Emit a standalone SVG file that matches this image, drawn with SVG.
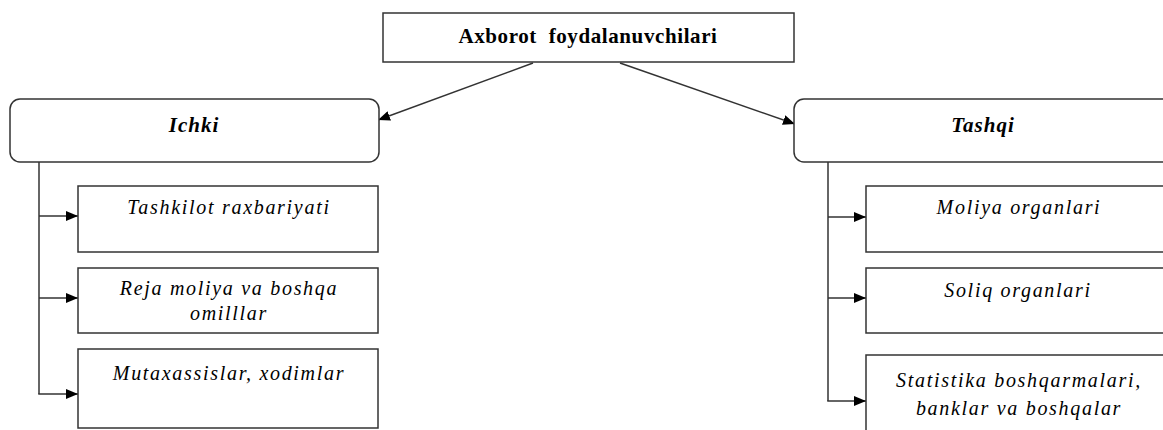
<svg xmlns="http://www.w3.org/2000/svg" width="1163" height="430" viewBox="0 0 1163 430">
<style>
.box{fill:#fff;stroke:#333;stroke-width:1.5}
.ln{fill:none;stroke:#333;stroke-width:1.5}
.t{font-family:"Liberation Serif","Times New Roman",serif;fill:#000;text-anchor:middle;white-space:pre}
.hd{font-size:21px;font-weight:bold;letter-spacing:0.6px}
.sub{font-size:21px;font-weight:bold;font-style:italic;letter-spacing:1px}
.it{font-size:20px;font-style:italic;letter-spacing:1.7px}
</style>
<defs>
<marker id="ah" viewBox="0 0 12 10" refX="12" refY="5" markerWidth="12" markerHeight="10" markerUnits="userSpaceOnUse" orient="auto">
<path d="M0,0 L12,5 L0,10 Z" fill="#000"/>
</marker>
</defs>
<rect width="1163" height="430" fill="#fff"/>
<g id="connectors">
<line class="ln" x1="533" y1="63" x2="378" y2="120" marker-end="url(#ah)"/>
<line class="ln" x1="620" y1="63" x2="795" y2="124" marker-end="url(#ah)"/>
<line class="ln" x1="39" y1="162" x2="39" y2="394"/>
<line class="ln" x1="39" y1="216" x2="78" y2="216" marker-end="url(#ah)"/>
<line class="ln" x1="39" y1="298" x2="78" y2="298" marker-end="url(#ah)"/>
<line class="ln" x1="38.25" y1="394" x2="78" y2="394" marker-end="url(#ah)"/>
<line class="ln" x1="828" y1="162" x2="828" y2="401"/>
<line class="ln" x1="828" y1="217" x2="866" y2="217" marker-end="url(#ah)"/>
<line class="ln" x1="828" y1="298" x2="866" y2="298" marker-end="url(#ah)"/>
<line class="ln" x1="827.25" y1="401" x2="866" y2="401" marker-end="url(#ah)"/>
</g>
<g id="root">
<rect class="box" x="383" y="13" width="411" height="49"/>
<text class="t hd" x="588" y="43" xml:space="preserve">Axborot  foydalanuvchilari</text>
</g>
<g id="ichki">
<rect class="box" x="10" y="99" width="369" height="63" rx="10"/>
<text class="t sub" x="194" y="132">Ichki</text>
</g>
<g id="tashqi">
<rect class="box" x="794" y="99" width="380" height="63" rx="10"/>
<text class="t sub" x="983" y="132">Tashqi</text>
</g>
<g id="ichki-1">
<rect class="box" x="78" y="186" width="300" height="66"/>
<text class="t it" x="229" y="214">Tashkilot raxbariyati</text>
</g>
<g id="ichki-2">
<rect class="box" x="78" y="268" width="300" height="65"/>
<text class="t it" x="229" y="295">Reja moliya va boshqa</text>
<text class="t it" x="229" y="320">omilllar</text>
</g>
<g id="ichki-3">
<rect class="box" x="78" y="349" width="300" height="79"/>
<text class="t it" x="229" y="380">Mutaxassislar, xodimlar</text>
</g>
<g id="tashqi-1">
<rect class="box" x="866" y="186" width="310" height="66"/>
<text class="t it" x="1019" y="214">Moliya organlari</text>
</g>
<g id="tashqi-2">
<rect class="box" x="866" y="268" width="310" height="65"/>
<text class="t it" x="1018" y="297">Soliq organlari</text>
</g>
<g id="tashqi-3">
<rect class="box" x="866" y="355" width="310" height="90"/>
<text class="t it" x="1019" y="387">Statistika boshqarmalari,</text>
<text class="t it" x="1019" y="415">banklar va boshqalar</text>
</g>
</svg>
